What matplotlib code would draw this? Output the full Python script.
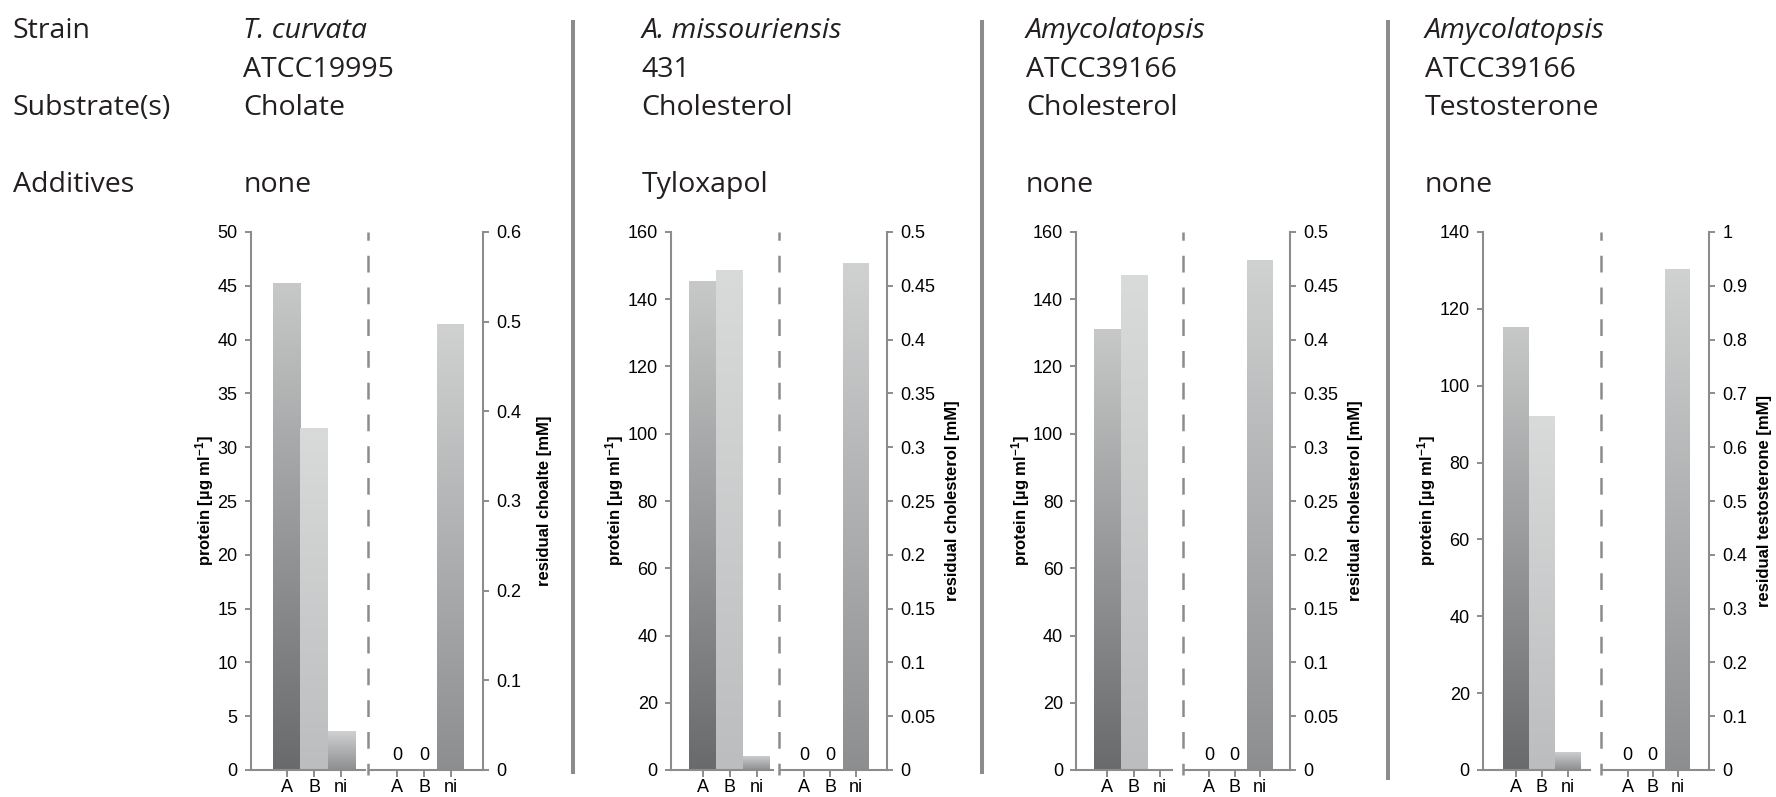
import numpy as np
import matplotlib.pyplot as plt
from matplotlib.lines import Line2D
from matplotlib.colors import LinearSegmentedColormap

plt.rcParams['font.family'] = ['Liberation Sans', 'DejaVu Sans']
plt.rcParams['mathtext.default'] = 'regular'

W, H, DPI = 1776, 797, 100

# --- data ---
strain_names = ["T. curvata", "A. missouriensis", "Amycolatopsis", "Amycolatopsis"]
strain_ids = ["ATCC19995", "431", "ATCC39166", "ATCC39166"]
substrates = ["Cholate", "Cholesterol", "Cholesterol", "Testosterone"]
additives = ["none", "Tyloxapol", "none", "none"]

categories = ["A", "B", "ni"]
protein = [[45.3, 31.8, 3.6],
           [145.3, 148.6, 4.3],
           [131.2, 147.2, 0.0],
           [115.4, 92.2, 4.8]]
residual = [[0, 0, 0.497],
            [0, 0, 0.471],
            [0, 0, 0.474],
            [0, 0, 0.931]]
protein_max = [50, 160, 160, 140]
protein_step = [5, 20, 20, 20]
residual_max = [0.6, 0.5, 0.5, 1.0]
residual_step = [0.1, 0.05, 0.05, 0.1]
residual_labels = ["residual choalte [mM]", "residual cholesterol [mM]",
                   "residual cholesterol [mM]", "residual testosterone [mM]"]

# --- layout in pixels (measured on the reference) ---
layout = [
    dict(left=250.5, a=286.9, step=27.15, dash=368.3, gap=3, a2=397.3, step2=26.7, right=483.3, rpad=11),
    dict(left=671.0, a=702.7, step=27.0, dash=779.2, gap=6, a2=804.0, step2=26.0, right=886.9, rpad=7),
    dict(left=1076.4, a=1107.3, step=26.5, dash=1182.7, gap=11, a2=1209.0, step2=25.5, right=1290.4, rpad=6.5),
    dict(left=1483.0, a=1516.0, step=25.9, dash=1601.2, gap=11, a2=1627.7, step2=25.0, right=1709.0, rpad=7),
]
seps = [572.5, 982.0, 1388.3]
top_px, base_px = 232, 770
GRAY = '#8c8c8c'
FS = 13

bar_cols = {"A": ("#686a6c", "#c7c8c8"),
            "B": ("#bcbdbe", "#d9dada"),
            "ni": ("#8c8e90", "#d0d1d1")}
grad = np.linspace(0, 1, 256).reshape(-1, 1)


def rect(x0, x1):
    return [x0 / W, 1 - base_px / H, (x1 - x0) / W, (base_px - top_px) / H]


def gradient_bars(ax, vals, cols):
    bars = ax.bar(range(len(vals)), vals, width=1.0, color='none', zorder=1)
    for b, c in zip(bars, cols):
        if b.get_height() <= 0:
            continue
        cmap = LinearSegmentedColormap.from_list('g', bar_cols[c])
        x0 = b.get_x()
        im = ax.imshow(grad, origin='lower', cmap=cmap, aspect='auto', zorder=2,
                       extent=[x0, x0 + b.get_width(), 0, b.get_height()])
        im.set_clip_path(b)


def style(ax, side):
    for s in ax.spines.values():
        s.set_visible(False)
    for s in (side, 'bottom'):
        ax.spines[s].set_visible(True)
        ax.spines[s].set_color(GRAY)
        ax.spines[s].set_linewidth(1.5)
    ax.tick_params(axis='y', direction='out', length=4.5, width=1.4, color=GRAY,
                   pad=5, labelsize=FS)
    ax.tick_params(axis='x', direction='out', length=4.8, width=1.4, color=GRAY,
                   pad=1.5, labelsize=FS)
    ax.patch.set_visible(False)


fig = plt.figure(figsize=(W / DPI, H / DPI), dpi=DPI)

for i, lay in enumerate(layout):
    # protein part
    l_end = lay['dash'] - lay['gap']
    ax_l = fig.add_axes(rect(lay['left'], l_end))
    gradient_bars(ax_l, protein[i], categories)
    ax_l.set_xlim((lay['left'] - lay['a']) / lay['step'], (l_end - lay['a']) / lay['step'])
    ax_l.set_ylim(0, protein_max[i])
    ax_l.set_yticks(np.arange(0, protein_max[i] + 0.1, protein_step[i]))
    ax_l.set_xticks(range(3))
    ax_l.set_xticklabels(categories)
    style(ax_l, 'left')
    ax_l.set_ylabel(r'protein [µg ml$^{-1}$]', fontsize=12, fontweight='bold', labelpad=1)

    # residual part
    r_start = lay['dash'] + 2
    ax_r = fig.add_axes(rect(r_start, lay['right']))
    gradient_bars(ax_r, residual[i], categories)
    ax_r.set_xlim((r_start - lay['a2']) / lay['step2'], (lay['right'] - lay['a2']) / lay['step2'])
    ax_r.set_ylim(0, residual_max[i])
    ax_r.set_yticks(np.arange(0, residual_max[i] + 1e-6, residual_step[i]))
    ax_r.set_yticklabels([f'{v:g}' for v in ax_r.get_yticks()])
    ax_r.set_xticks(range(3))
    ax_r.set_xticklabels(categories)
    ax_r.yaxis.tick_right()
    ax_r.yaxis.set_label_position('right')
    style(ax_r, 'right')
    ax_r.set_ylabel(residual_labels[i], fontsize=12, fontweight='bold',
                    rotation=90, labelpad=lay['rpad'])
    for j, v in enumerate(residual[i]):
        if v == 0:
            ax_r.annotate('0', (j, 0), xytext=(0, 4), textcoords='offset points',
                          ha='center', va='bottom', fontsize=FS)

    # dashed divider between the two parts
    fig.add_artist(Line2D([lay['dash'] / W] * 2, [1 - top_px / H, 1 - 775 / H],
                          color=GRAY, lw=1.8, linestyle=(3.4, (6.7, 6.0))))

# panel separators
for k, x in enumerate(seps):
    y1 = 780 if k == 2 else 774
    fig.add_artist(Line2D([x / W] * 2, [1 - 20 / H, 1 - y1 / H], color=GRAY, lw=2.9,
                          solid_capstyle='butt'))

# header block
head = dict(fontsize=20.5, family=['Open Sans', 'DejaVu Sans'], va='baseline', color='#231f20')
rows_y = [38.3, 76.7, 115, 191.7]
fig.text(12.7 / W, 1 - rows_y[0] / H, "Strain", **head)
fig.text(12.7 / W, 1 - rows_y[2] / H, "Substrate(s)", **head)
fig.text(12.7 / W, 1 - rows_y[3] / H, "Additives", **head)
col_x = [243.3, 641.7, 1026, 1425]
for i, x in enumerate(col_x):
    fig.text(x / W, 1 - rows_y[0] / H, strain_names[i], style='italic', **head)
    fig.text(x / W, 1 - rows_y[1] / H, strain_ids[i], **head)
    fig.text(x / W, 1 - rows_y[2] / H, substrates[i], **head)
    fig.text(x / W, 1 - rows_y[3] / H, additives[i], **head)

fig.savefig('out.png', dpi=DPI)
